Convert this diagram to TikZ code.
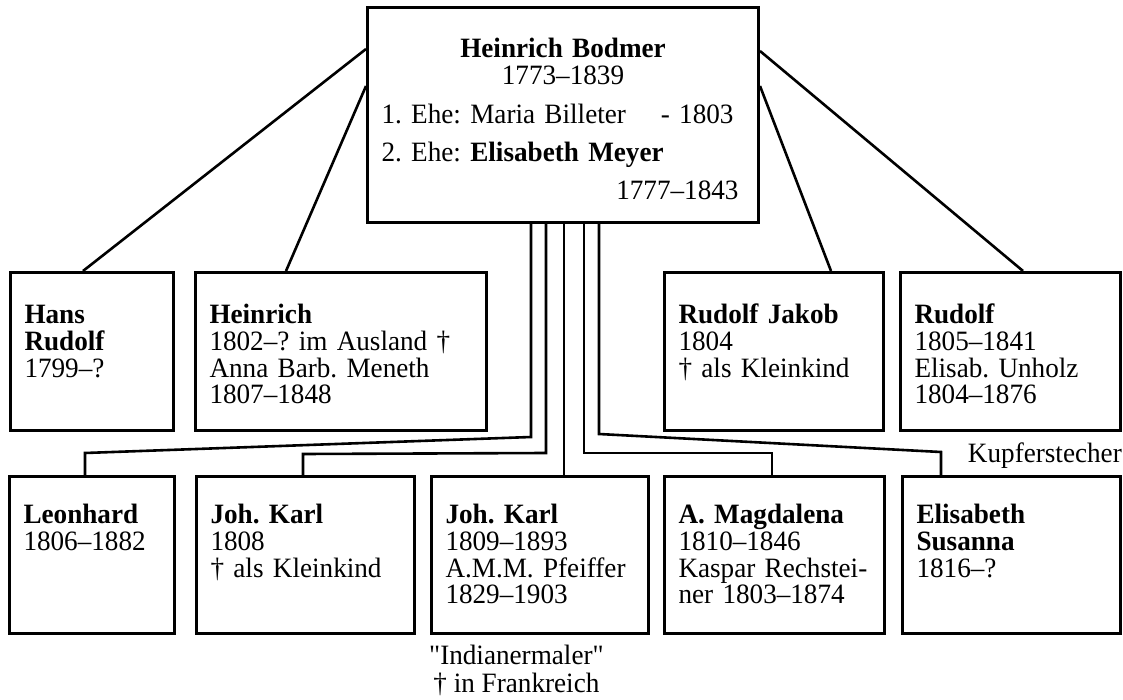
\documentclass[tikz,border=0pt]{standalone}
\usepackage{fontspec}
\setmainfont{Liberation Serif}[FakeStretch=0.97]
\newfontfamily\plainserif{Liberation Serif}[FakeStretch=0.97]
\usepackage{tikz}
\tikzset{
  person/.style={draw, line width=3pt, anchor=north west, align=left,
                 inner xsep=14pt, inner ysep=0pt},
  upperrow/.style={person, text height=51pt, text depth=107pt},
  lowerrow/.style={person, text height=47pt, text depth=110pt},
  link/.style={line width=2.6pt}
}
\frenchspacing
\begin{document}
\begin{tikzpicture}[x=1pt,y=-1pt,font=\fontsize{28}{26.8}\selectfont]
\useasboundingbox (0,0) rectangle (1123,700);

% parents
\node[person, text width=363pt, text height=50pt, text depth=165pt] (bodmer) at (366,6)
  {\hspace*{\fill}\textbf{Heinrich Bodmer}\hspace*{\fill}\null\\
   \hspace*{\fill}1773--1839\hspace*{\fill}\null\\[12.2pt]
   1. Ehe: Maria Billeter\hfill - 1803\hspace*{11pt}\null\\[11.5pt]
   2. Ehe: \textbf{Elisabeth Meyer}\\[11.5pt]
   \hspace*{\fill}1777--1843\hspace*{6pt}\null};

% children, first row
\node[upperrow, text width=135pt] (hans) at (9,271)
  {\textbf{Hans}\\ \textbf{Rudolf}\\ 1799--?};
\node[upperrow, text width=263pt] (heinrich) at (194,271)
  {\textbf{Heinrich}\\ 1802--? im Ausland †\\ Anna Barb. Meneth\\ 1807--1848};
\node[upperrow, text width=191pt] (rjakob) at (663,271)
  {\textbf{Rudolf Jakob}\\ 1804\\ † als Kleinkind};
\node[upperrow, text width=192pt] (rudolf) at (899,271)
  {\textbf{Rudolf}\\ 1805--1841\\ Elisab. Unholz\\ 1804--1876};

% children, second row
\node[lowerrow, text width=137pt] (leonhard) at (8,475)
  {\textbf{Leonhard}\\ 1806--1882};
\node[lowerrow, text width=190pt] (jkarl) at (195,475)
  {\textbf{Joh. Karl}\\ 1808\\ † als Kleinkind};
\node[lowerrow, text width=189pt] (jkarlb) at (430,475)
  {\textbf{Joh. Karl}\\ 1809--1893\\ A.M.M. Pfeiffer\\ 1829--1903};
\node[lowerrow, text width=192pt] (magdalena) at (663,475)
  {\textbf{A. Magdalena}\\ 1810--1846\\ Kaspar Rechstei-\\ ner 1803--1874};
\node[lowerrow, text width=190pt] (elisabeth) at (901,475)
  {\textbf{Elisabeth}\\ \textbf{Susanna}\\ 1816--?};

% notes
\node[anchor=north east, inner sep=0pt] (kupfer) at ([yshift=-11pt]rudolf.south east)
  {Kupferstecher};
\node[anchor=north west, align=center, inner sep=0pt,
      font=\fontsize{28}{26.8}\selectfont\plainserif] (indianer)
  at ([xshift=-1pt,yshift=-10pt]jkarlb.south west)
  {"Indianermaler"\\[1.5pt] † in Frankreich};

% lines from the parents
\draw[link] ([yshift=-43pt]bodmer.north west) -- ([xshift=74pt]hans.north west);
\draw[link] ([yshift=-80pt]bodmer.north west) -- ([xshift=92pt]heinrich.north west);
\draw[link] ([yshift=-80pt]bodmer.north east) -- ([xshift=168pt]rjakob.north west);
\draw[link] ([yshift=-45pt]bodmer.north east) -- ([xshift=124pt]rudolf.north west);

\draw[link] ([xshift=165pt]bodmer.south west) -- (531,437) -- (85,453)
  -- ([xshift=77pt]leonhard.north west);
\draw[link] ([xshift=180pt]bodmer.south west) -- (546,453) -- (303,454)
  -- ([xshift=108pt]jkarl.north west);
\draw[link] ([xshift=198pt]bodmer.south west) -- ([xshift=134pt]jkarlb.north west);
\draw[link] ([xshift=218pt]bodmer.south west) -- (584,453) -- (772,453)
  -- ([xshift=109pt]magdalena.north west);
\draw[link] ([xshift=233pt]bodmer.south west) -- (599,434) -- (941,452)
  -- ([xshift=40pt]elisabeth.north west);
\end{tikzpicture}
\end{document}
